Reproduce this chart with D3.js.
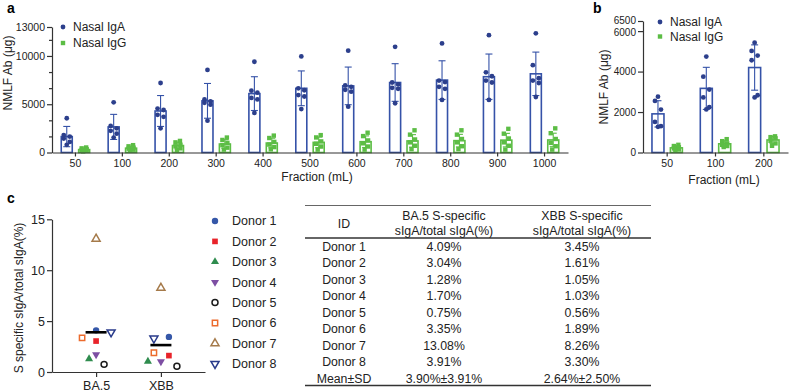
<!DOCTYPE html>
<html>
<head>
<meta charset="utf-8">
<script src="https://cdn.jsdelivr.net/npm/d3@7"></script>
<style>
  body { margin: 0; background: #fff; }
  svg { display: block; font-family: 'Liberation Sans', Arial, sans-serif; }
  .axis path, .axis line { stroke: #333; stroke-width: 1.2; }
  .axis text { fill: #222; font-family: 'Liberation Sans', Arial, sans-serif; }
</style>
</head>
<body>
<svg id="fig" width="790" height="392"></svg>
<script>
// ---- panel a data ----
const fractionsA = ['50', '100', '200', '300', '400', '500', '600', '700', '800', '900', '1000'];
const igaMeanA = [1650, 2650, 4300, 5350, 6100, 6650, 6900, 7250, 7500, 7850, 8150];
const igaSdA = [1050, 1300, 1600, 1800, 1750, 1800, 1950, 1950, 2000, 2350, 2250];
const igaPtsA = [
  [3550, 1800, 1650, 1450, 1100, 800],
  [5200, 2750, 2500, 2250, 1950, 1550],
  [7200, 4550, 4400, 3900, 3700, 2500],
  [8550, 5500, 5300, 5150, 4950, 3300],
  [9400, 6400, 6200, 5650, 5500, 4100],
  [9950, 6650, 6450, 5950, 5800, 4500],
  [10550, 6950, 6800, 6500, 6300, 4750],
  [10950, 7250, 7050, 6700, 6600, 5100],
  [11300, 7450, 7300, 6800, 6600, 5450],
  [12150, 8300, 7900, 7450, 7250, 5450],
  [12350, 9050, 7700, 7450, 7200, 5750]
];
const iggMeanA = [300, 450, 720, 880, 980, 1050, 1120, 1200, 1230, 1280, 1300];
const iggSdA = [150, 200, 350, 450, 500, 550, 600, 650, 650, 700, 700];
const iggPtsA = [
  [520, 430, 340, 260, 180, 120],
  [760, 640, 500, 400, 290, 180],
  [1200, 1050, 800, 640, 430, 280],
  [1550, 1300, 1000, 760, 500, 300],
  [1750, 1500, 1100, 820, 560, 330],
  [1800, 1560, 1150, 900, 620, 300],
  [2050, 1700, 1250, 950, 620, 300],
  [2300, 1850, 1350, 1050, 700, 350],
  [2300, 1850, 1400, 1050, 650, 350],
  [2450, 1950, 1450, 1050, 700, 300],
  [2500, 2000, 1400, 1000, 650, 300]
];
const yTicksA = [0, 5000, 10000, 13000];

// ---- panel b data ----
const fractionsB = ['50', '100', '200'];
const igaMeanB = [1910, 3170, 4200];
const igaSdB = [650, 1040, 1120];
const igaPtsB = [
  [2760, 2550, 2120, 1510, 1300, 1270],
  [4740, 3750, 3110, 2720, 2240, 2130],
  [5430, 5020, 4790, 4560, 2830, 2720]
];
const iggMeanB = [230, 430, 620];
const iggSdB = [100, 150, 170];
const iggPtsB = [
  [380, 320, 260, 200, 150, 120],
  [660, 560, 450, 380, 320, 270],
  [800, 760, 700, 580, 450, 330]
];
const yTicksB = [0, 2000, 4000, 6000, 6500];

// ---- panel c data ----
const variants = ['BA.5', 'XBB'];
const donors = ['Donor 1', 'Donor 2', 'Donor 3', 'Donor 4', 'Donor 5', 'Donor 6', 'Donor 7', 'Donor 8'];
const ba5Pct = [4.09, 3.04, 1.28, 1.70, 0.75, 3.35, 13.08, 3.91];
const xbbPct = [3.45, 1.61, 1.05, 1.03, 0.56, 1.89, 8.26, 3.30];
const yTicksC = [0, 5, 10, 15];

// styles
const BLUE = '#3552a8', BLUE_PT = '#2c3f8c', GREEN = '#5cbd45', INK = '#222';
const jitIga = [0, -3, 3, -3, 3, 0];
const jitIgg = [2, -2.5, 2.5, -2.5, 2.5, -1];

const svg = d3.select('#fig');

function barPanel(opt) {
  const x = d3.scaleBand().domain(opt.cats).range(opt.xr);
  const y = d3.scaleLinear().domain([0, opt.ymax]).range(opt.yr);
  const g = svg.append('g');

  const series = [
    { mean: opt.igaMean, sd: opt.igaSd, pts: opt.igaPts, stroke: BLUE, pt: BLUE_PT, dx: -opt.off, jit: jitIga, shape: 'circle' },
    { mean: opt.iggMean, sd: opt.iggSd, pts: opt.iggPts, stroke: GREEN, pt: GREEN, dx: opt.off, jit: jitIgg, shape: 'square' }
  ];

  series.forEach(s => {
    const cx = i => x(opt.cats[i]) + x.bandwidth() / 2 + s.dx;
    const sg = g.append('g');

    sg.selectAll('rect').data(s.mean).join('rect')
      .attr('x', (d, i) => cx(i) - opt.bw / 2)
      .attr('y', d => y(d))
      .attr('width', opt.bw)
      .attr('height', d => y(0) - y(d))
      .attr('fill', '#fff')
      .attr('stroke', s.stroke)
      .attr('stroke-width', 1.6);

    // mean +/- SD
    s.mean.forEach((m, i) => {
      const lo = Math.max(0, m - s.sd[i]), hi = m + s.sd[i];
      const e = sg.append('g').attr('stroke', s.stroke).attr('stroke-width', 1.1);
      e.append('line').attr('x1', cx(i)).attr('x2', cx(i)).attr('y1', y(lo)).attr('y2', y(hi));
      [lo, hi].forEach(v => e.append('line')
        .attr('x1', cx(i) - 3.5).attr('x2', cx(i) + 3.5)
        .attr('y1', y(v)).attr('y2', y(v)));
    });

    // individual samples
    s.pts.forEach((arr, i) => {
      arr.forEach((v, k) => {
        const px = cx(i) + s.jit[k], py = y(v);
        if (s.shape === 'circle') {
          sg.append('circle').attr('cx', px).attr('cy', py).attr('r', 2.4).attr('fill', s.pt);
        } else {
          sg.append('rect').attr('x', px - 2.2).attr('y', py - 2.2)
            .attr('width', 4.4).attr('height', 4.4).attr('fill', s.pt);
        }
      });
    });
  });

  // axes
  const yAxis = d3.axisLeft(y).tickValues(opt.yTicks).tickFormat(d3.format('d'))
    .tickSize(5).tickSizeOuter(0).tickPadding(2);
  const yG = g.append('g').attr('class', 'axis')
    .attr('transform', `translate(${opt.xr[0]},0)`)
    .call(yAxis);
  yG.selectAll('text').style('font-size', opt.tickFont);
  if (opt.topNudge) {
    yG.selectAll('.tick').filter(d => d === opt.ymax).select('text').attr('dy', '0.2em');
    yG.selectAll('.tick').filter(d => d === opt.yTicks[opt.yTicks.length - 2]).select('text').attr('dy', '0.42em');
  }

  if (opt.minor) {
    g.append('g').attr('class', 'axis')
      .attr('transform', `translate(${opt.xr[0]},0)`)
      .call(d3.axisLeft(y).tickValues(opt.minor).tickSize(3).tickFormat(''))
      .call(a => a.select('.domain').remove());
  }

  const xG = g.append('g').attr('class', 'axis')
    .attr('transform', `translate(0,${opt.yr[0]})`)
    .call(d3.axisBottom(x).tickSize(4).tickSizeOuter(0).tickPadding(3));
  xG.selectAll('text').style('font-size', '10.5px');

  // titles
  g.append('text')
    .attr('transform', `translate(${opt.yTitle[0]},${opt.yTitle[1]}) rotate(-90)`)
    .attr('text-anchor', 'middle')
    .style('font-size', '12px').attr('fill', INK)
    .text('NMLF Ab (μg)');
  g.append('text')
    .attr('x', opt.xTitle[0]).attr('y', opt.xTitle[1])
    .attr('text-anchor', 'middle')
    .style('font-size', '12px').attr('fill', INK)
    .text('Fraction (mL)');

  // legend
  const lg = g.append('g').attr('transform', `translate(${opt.legend[0]},${opt.legend[1]})`);
  lg.append('circle').attr('cx', 0).attr('cy', 0).attr('r', 2.4).attr('fill', BLUE_PT);
  lg.append('rect').attr('x', -2.2).attr('y', opt.legend[2] - 2.2).attr('width', 4.4).attr('height', 4.4).attr('fill', GREEN);
  lg.append('text').attr('x', 10).attr('y', 4.2).style('font-size', '12px').attr('fill', INK).text('Nasal IgA');
  lg.append('text').attr('x', 10).attr('y', opt.legend[2] + 4.2).style('font-size', '12px').attr('fill', INK).text('Nasal IgG');
}

barPanel({
  cats: fractionsA, xr: [52, 568], yr: [152.5, 27], ymax: 13000,
  igaMean: igaMeanA, igaSd: igaSdA, igaPts: igaPtsA,
  iggMean: iggMeanA, iggSd: iggSdA, iggPts: iggPtsA,
  yTicks: yTicksA, minor: [5000 / 3, 10000 / 3, 20000 / 3, 25000 / 3, 35000 / 3],
  off: 8.7, bw: 11, tickFont: '10.5px', topNudge: false,
  yTitle: [12, 73], xTitle: [317, 181], legend: [63, 27, 16]
});

barPanel({
  cats: fractionsB, xr: [643, 788], yr: [152.5, 21], ymax: 6500,
  igaMean: igaMeanB, igaSd: igaSdB, igaPts: igaPtsB,
  iggMean: iggMeanB, iggSd: iggSdB, iggPts: iggPtsB,
  yTicks: yTicksB, minor: null,
  off: 9.2, bw: 12, tickFont: '10px', topNudge: true,
  yTitle: [608, 87], xTitle: [724, 184], legend: [660, 22, 14.5]
});

// ---- panel c ----
const markers = [
  { type: d3.symbolCircle, fill: '#3557a8', stroke: 'none', rot: 0, size: 32 },
  { type: d3.symbolSquare, fill: '#e8232a', stroke: 'none', rot: 0, size: 32 },
  { type: d3.symbolTriangle, fill: '#2f8c4e', stroke: 'none', rot: 0, size: 28 },
  { type: d3.symbolTriangle, fill: '#7d4ea3', stroke: 'none', rot: 180, size: 28 },
  { type: d3.symbolCircle, fill: 'none', stroke: '#1a1a1a', rot: 0, size: 28 },
  { type: d3.symbolSquare, fill: 'none', stroke: '#ec6b2d', rot: 0, size: 28 },
  { type: d3.symbolTriangle, fill: 'none', stroke: '#a57a4a', rot: 0, size: 28 },
  { type: d3.symbolTriangle, fill: 'none', stroke: '#283a8a', rot: 180, size: 28 }
];
const jitC = { 'BA.5': [0, 0, -7, 0, 8, -14, 0, 15], 'XBB': [8, 8, -13, 0, 16, -7, 0, -7] };

const xc = d3.scalePoint().domain(variants).range([52, 205]).padding(0.68);
const yc = d3.scaleLinear().domain([0, 15]).range([372, 219.3]);
const gc = svg.append('g');

[ba5Pct, xbbPct].forEach((vals, vi) => {
  const v = variants[vi];
  vals.forEach((val, i) => {
    const m = markers[i];
    gc.append('path')
      .attr('d', d3.symbol().type(m.type).size(m.size)())
      .attr('transform', `translate(${xc(v) + jitC[v][i]},${yc(val)}) rotate(${m.rot})`)
      .attr('fill', m.fill)
      .attr('stroke', m.stroke)
      .attr('stroke-width', 1.5);
  });
  const mean = d3.mean(vals);
  gc.append('line')
    .attr('x1', xc(v) - 10.5).attr('x2', xc(v) + 10.5)
    .attr('y1', yc(mean)).attr('y2', yc(mean))
    .attr('stroke', '#000').attr('stroke-width', 2.6);
});

const ycG = gc.append('g').attr('class', 'axis').attr('transform', 'translate(52,0)')
  .call(d3.axisLeft(yc).tickValues(yTicksC).tickSize(5).tickSizeOuter(0).tickPadding(2));
ycG.selectAll('text').style('font-size', '12.5px');
const xcG = gc.append('g').attr('class', 'axis').attr('transform', 'translate(0,372)')
  .call(d3.axisBottom(xc).tickSize(5).tickSizeOuter(0).tickPadding(4));
xcG.selectAll('text').style('font-size', '12.5px');
gc.append('text')
  .attr('transform', 'translate(23,298) rotate(-90)')
  .attr('text-anchor', 'middle')
  .style('font-size', '12px').attr('fill', INK)
  .text('S specific sIgA/total sIgA(%)');

// legend c
donors.forEach((d, i) => {
  const m = markers[i];
  const ly = 221 + i * 20.4;
  gc.append('path')
    .attr('d', d3.symbol().type(m.type).size(m.size)())
    .attr('transform', `translate(215,${ly}) rotate(${m.rot})`)
    .attr('fill', m.fill).attr('stroke', m.stroke).attr('stroke-width', 1.5);
  gc.append('text').attr('x', 232).attr('y', ly + 4.3)
    .style('font-size', '12.5px').attr('fill', INK).text(d);
});

// ---- table ----
const tg = svg.append('g').style('font-size', '12.3px').attr('fill', INK);
const colX = [344, 444, 582];
tg.append('line').attr('x1', 305).attr('x2', 651).attr('y1', 205.5).attr('y2', 205.5).attr('stroke', '#666').attr('stroke-width', 1);
tg.append('line').attr('x1', 305).attr('x2', 651).attr('y1', 238).attr('y2', 238).attr('stroke', '#333').attr('stroke-width', 1.5);
tg.append('line').attr('x1', 305).attr('x2', 651).attr('y1', 385.5).attr('y2', 385.5).attr('stroke', '#333').attr('stroke-width', 1.5);

tg.append('text').attr('x', colX[0]).attr('y', 227.5).attr('text-anchor', 'middle').text('ID');
[['BA.5 S-specific', 'sIgA/total sIgA(%)'], ['XBB S-specific', 'sIgA/total sIgA(%)']].forEach((h, j) => {
  tg.append('text').attr('x', colX[j + 1]).attr('y', 219.5).attr('text-anchor', 'middle').text(h[0]);
  tg.append('text').attr('x', colX[j + 1]).attr('y', 235).attr('text-anchor', 'middle').text(h[1]);
});

const fmt = v => v.toFixed(2) + '%';
const rows = donors.map((d, i) => [d, fmt(ba5Pct[i]), fmt(xbbPct[i])]);
rows.push(['Mean±SD',
  fmt(d3.mean(ba5Pct)) + '±' + fmt(d3.deviation(ba5Pct)),
  fmt(d3.mean(xbbPct)) + '±' + fmt(d3.deviation(xbbPct))]);
rows.forEach((r, i) => {
  const ry = 246.7 + i * 16.45 + 4.3;
  r.forEach((c, j) => tg.append('text').attr('x', colX[j]).attr('y', ry).attr('text-anchor', 'middle').text(c));
});

// panel letters
[['a', 7, 13], ['b', 593, 13], ['c', 7, 203]].forEach(l => {
  svg.append('text').attr('x', l[1]).attr('y', l[2])
    .style('font-size', '14px').style('font-weight', 'bold').attr('fill', '#000').text(l[0]);
});
</script>
</body>
</html>
